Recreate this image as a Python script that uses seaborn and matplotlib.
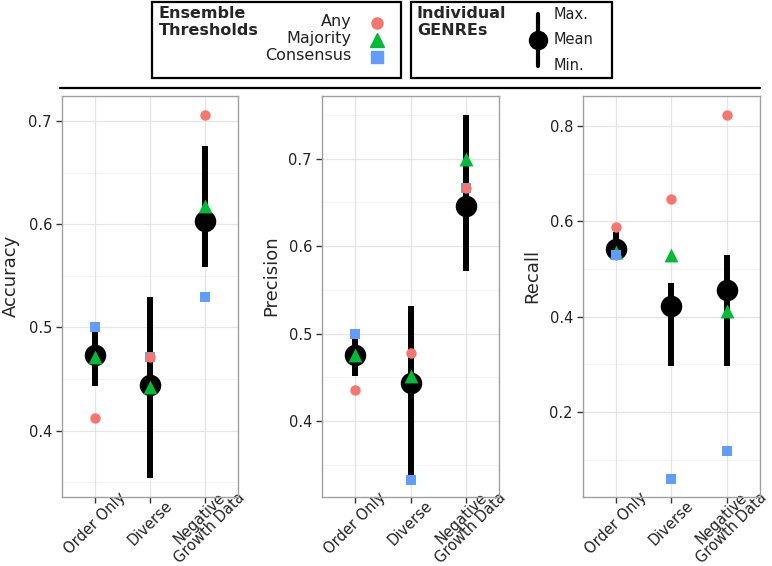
import numpy as np
import pandas as pd
import matplotlib
matplotlib.use("Agg")
import matplotlib.pyplot as plt
from matplotlib.patches import Rectangle
from matplotlib.lines import Line2D
import seaborn as sns

sns.set_theme(style="white")
plt.rcParams['font.family'] = ['DejaVu Sans']

categories = ["Order Only", "Diverse", "Negative\nGrowth Data"]
metrics = ["Accuracy", "Precision", "Recall"]

# Ensemble thresholds
any_vals = {"Accuracy": [0.412, 0.471, 0.706],
            "Precision": [0.435, 0.478, 0.667],
            "Recall": [0.588, 0.647, 0.824]}
majority_vals = {"Accuracy": [0.471, 0.442, 0.618],
                 "Precision": [0.475, 0.452, 0.700],
                 "Recall": [0.535, 0.529, 0.412]}
consensus_vals = {"Accuracy": [0.500, 0.471, 0.529],
                  "Precision": [0.500, 0.333, 0.667],
                  "Recall": [0.529, 0.059, 0.118]}
# Individual GENREs
mean_vals = {"Accuracy": [0.473, 0.444, 0.603],
             "Precision": [0.476, 0.443, 0.646],
             "Recall": [0.541, 0.423, 0.457]}
min_vals = {"Accuracy": [0.443, 0.354, 0.559],
            "Precision": [0.451, 0.333, 0.572],
            "Recall": [0.529, 0.296, 0.296]}
max_vals = {"Accuracy": [0.497, 0.529, 0.676],
            "Precision": [0.497, 0.532, 0.750],
            "Recall": [0.577, 0.470, 0.529]}

ylims = {"Accuracy": (0.336, 0.7245),
         "Precision": (0.3134, 0.772),
         "Recall": (0.0223, 0.8636)}
major_ticks = {"Accuracy": [0.4, 0.5, 0.6, 0.7],
               "Precision": [0.4, 0.5, 0.6, 0.7],
               "Recall": [0.2, 0.4, 0.6, 0.8]}

c_any = "#F8766D"
c_maj = "#00BA38"
c_con = "#619CFF"

W, H = 772, 566
fig = plt.figure(figsize=(W / 100, H / 100), dpi=100)

panel_px = [(61.7, 237.7), (321.7, 499.3), (582.7, 760.0)]
top_px, bot_px = 95.7, 496.7

for (l, r), metric in zip(panel_px, metrics):
    ax = fig.add_axes([l / W, 1 - bot_px / H, (r - l) / W, (bot_px - top_px) / H])
    ax.set_facecolor("white")
    df = pd.DataFrame({
        "category": categories,
        "Any": any_vals[metric],
        "Majority": majority_vals[metric],
        "Consensus": consensus_vals[metric],
        "Mean": mean_vals[metric],
        "Min": min_vals[metric],
        "Max": max_vals[metric],
    })
    pos = np.arange(len(categories))
    # grid
    lo, hi = ylims[metric]
    mt = major_ticks[metric]
    step = mt[1] - mt[0]
    minors = np.arange(mt[0] - step / 2, hi, step)
    for m in minors:
        if lo < m < hi:
            ax.axhline(m, color="#F2F2F2", lw=0.6, zorder=0)
    for m in mt:
        ax.axhline(m, color="#E5E5E5", lw=0.9, zorder=0)
    for p in pos:
        ax.axvline(p, color="#E5E5E5", lw=0.9, zorder=0)

    ax.vlines(pos, df["Min"], df["Max"], color="black", lw=4.3, zorder=2)
    sns.stripplot(data=df, x="category", y="Mean", jitter=False, color="black",
                  size=15.5, marker="o", linewidth=0, ax=ax, zorder=3)
    sns.stripplot(data=df, x="category", y="Majority", jitter=False, color=c_maj,
                  size=10, marker="^", linewidth=0, ax=ax, zorder=4)
    sns.stripplot(data=df, x="category", y="Consensus", jitter=False, color=c_con,
                  size=7.5, marker="s", linewidth=0, ax=ax, zorder=5)
    sns.stripplot(data=df, x="category", y="Any", jitter=False, color=c_any,
                  size=7.5, marker="o", linewidth=0, ax=ax, zorder=6)

    ax.set_xlim(-0.6, 2.6)
    ax.set_ylim(lo, hi)
    ax.set_yticks(mt)
    ax.set_yticklabels([f"{t:.1f}" for t in mt], fontsize=10.5, color="#222222")
    ax.set_xticks(pos)
    ax.set_xticklabels(categories, rotation=45, ha="center", va="center",
                       rotation_mode="anchor", fontsize=10.5, color="#222222",
                       linespacing=0.9)
    ax.set_xlabel("")
    ax.set_ylabel(metric, fontsize=13, labelpad=6)
    ax.yaxis.label.set_y(0.55)
    ax.tick_params(axis="x", which="major", length=4, width=1, color="#333333",
                   bottom=True, pad=15)
    ax.tick_params(axis="y", which="major", length=4, width=1, color="#333333",
                   left=True, pad=3)
    for s in ax.spines.values():
        s.set_color("#A0A0A0")
        s.set_linewidth(1.0)

def fx(px):
    return px / W

def fy(py):
    return 1 - py / H

# Top separator line
fig.add_artist(Line2D([fx(60), fx(760)], [fy(87.5), fy(87.5)], color="black", lw=1.6))

# Legend box 1
fig.add_artist(Rectangle((fx(152), fy(78)), (401 - 152) / W, (78 - 1.5) / H,
                         fill=False, edgecolor="black", lw=1.6))
fig.text(fx(158.5), fy(6.5), "Ensemble\nThresholds", fontsize=11.5, fontweight="bold",
         va="top", ha="left", linespacing=1.1)
leg_rows = [("Any", 21.5, c_any, "o", 8), ("Majority", 38.5, c_maj, "^", 10.5),
            ("Consensus", 56, c_con, "s", 8)]
for lab, yy, col, mk, ms in leg_rows:
    fig.text(fx(351.5), fy(yy), lab, fontsize=11.5, va="center", ha="right",
             color="#222222")
    fig.add_artist(Line2D([fx(377)], [fy(yy + 1)], marker=mk, color=col,
                          markersize=ms, lw=0))

# Legend box 2
fig.add_artist(Rectangle((fx(411), fy(78)), (611.5 - 411) / W, (78 - 1.5) / H,
                         fill=False, edgecolor="black", lw=1.6))
fig.text(fx(417), fy(6.5), "Individual\nGENREs", fontsize=11.5, fontweight="bold",
         va="top", ha="left", linespacing=1.1)
fig.add_artist(Line2D([fx(538.3), fx(538.3)], [fy(14), fy(65.5)], color="black", lw=3))
fig.add_artist(Line2D([fx(538.3)], [fy(40)], marker="o", color="black",
                      markersize=13, lw=0))
for lab, yy in [("Max.", 14.5), ("Mean", 40), ("Min.", 65)]:
    fig.text(fx(554), fy(yy), lab, fontsize=10.5, va="center", ha="left",
             color="#222222")

fig.savefig("out.png", dpi=100, facecolor="white")
